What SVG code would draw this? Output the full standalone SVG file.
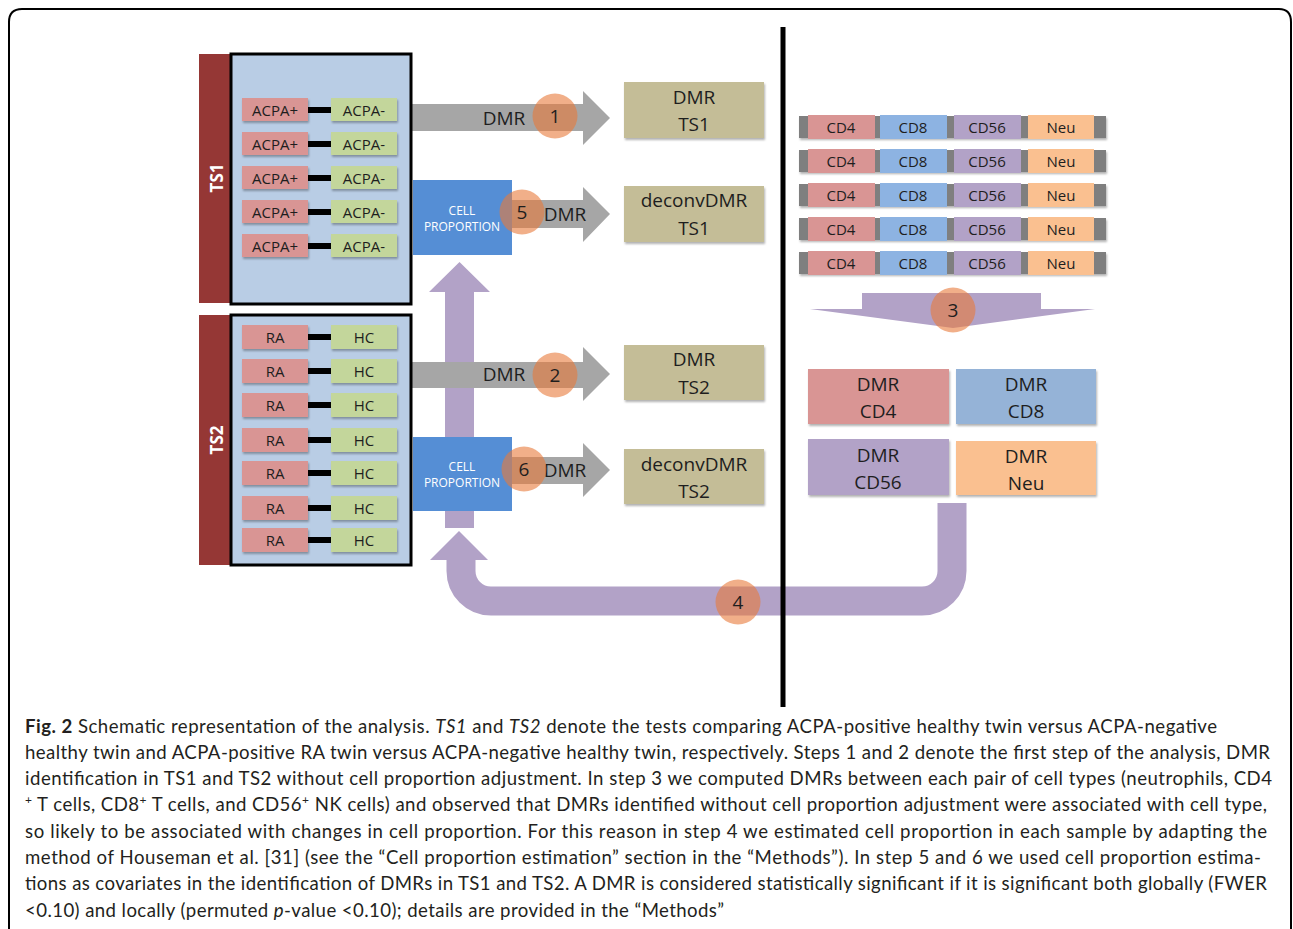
<svg xmlns="http://www.w3.org/2000/svg" width="1293" height="929" viewBox="0 0 1293 929">
<style>
.t{font-family:"Open Sans","Liberation Sans",sans-serif;fill:#1e1e1e;text-anchor:middle;dominant-baseline:central}
.s15{font-size:15px}
.s19{font-size:19px}
.cp{font-size:12px;fill:#fff}
.pos{fill:#D99594}
.neg{fill:#C3D69B}
.bar{fill:#000}
.res{fill:#C4BD97}
.gray{fill:#A6A6A6}
.purp{fill:#B2A2C7}
.circ{fill:#E8793A;fill-opacity:0.6}
.cap{font-family:Lato,"Open Sans","Liberation Sans",sans-serif;font-size:18.6px;fill:#231F20}
</style>
<defs>
<filter id="sh" x="-10%" y="-10%" width="130%" height="140%">
<feDropShadow dx="1" dy="2" stdDeviation="1.3" flood-color="#000" flood-opacity="0.3"/>
</filter>
</defs>
<rect width="1293" height="929" fill="#fff"/>
<path d="M9,929 V22 Q9,9 22,9 H1279 Q1291,9 1291,22 V929" fill="none" stroke="#000" stroke-width="2"/>

<g id="connectors">
<polygon class="purp" points="445,528 474,528 474,292 490,292 459.5,262 429,292 445,292"/>
<path d="M461,559 V571 A30,30 0 0 0 491,601 H922 A30,30 0 0 0 952,571 V503" fill="none" stroke="#B2A2C7" stroke-width="29"/>
<polygon class="purp" points="430,560 459,531 488,560"/>
<polygon class="gray" points="411,104 583,104 583,91 610,118 583,145 583,131 411,131"/>
<polygon class="gray" points="512,200 583,200 583,187 610,214 583,242 583,228 512,228"/>
<polygon class="gray" points="411,362 583,362 583,347 610,374 583,401 583,388 411,388"/>
<polygon class="gray" points="512,457 583,457 583,443 610,470 583,497 583,484 512,484"/>
<polygon class="purp" points="862,293 1041,293 1041,309 1095,309 953,328 810,309 862,309"/>
<text class="t s19" x="504" y="118">DMR</text>
<text class="t s19" x="565" y="214">DMR</text>
<text class="t s19" x="504" y="374">DMR</text>
<text class="t s19" x="565" y="470">DMR</text>
</g>

<g id="ts1">
<rect x="199" y="54" width="32" height="249" fill="#953735"/>
<rect x="231" y="54" width="180" height="250" fill="#B9CDE5" stroke="#000" stroke-width="3"/>
<text class="t" x="216" y="178" transform="rotate(-90 216 178)" style="fill:#fff;font-size:17px;font-weight:bold">TS1</text>
<g filter="url(#sh)">
<rect class="pos" x="242" y="98" width="66" height="23"/><rect class="neg" x="331" y="98" width="66" height="23"/>
<rect class="pos" x="242" y="132" width="66" height="23"/><rect class="neg" x="331" y="132" width="66" height="23"/>
<rect class="pos" x="242" y="166" width="66" height="23"/><rect class="neg" x="331" y="166" width="66" height="23"/>
<rect class="pos" x="242" y="200" width="66" height="23"/><rect class="neg" x="331" y="200" width="66" height="23"/>
<rect class="pos" x="242" y="234" width="66" height="23"/><rect class="neg" x="331" y="234" width="66" height="23"/>
</g>
<rect class="bar" x="308" y="107" width="23" height="6"/>
<rect class="bar" x="308" y="141" width="23" height="6"/>
<rect class="bar" x="308" y="175" width="23" height="6"/>
<rect class="bar" x="308" y="209" width="23" height="6"/>
<rect class="bar" x="308" y="243" width="23" height="6"/>
<text class="t s15" x="275" y="110">ACPA+</text><text class="t s15" x="364" y="110">ACPA-</text>
<text class="t s15" x="275" y="144">ACPA+</text><text class="t s15" x="364" y="144">ACPA-</text>
<text class="t s15" x="275" y="178">ACPA+</text><text class="t s15" x="364" y="178">ACPA-</text>
<text class="t s15" x="275" y="212">ACPA+</text><text class="t s15" x="364" y="212">ACPA-</text>
<text class="t s15" x="275" y="246">ACPA+</text><text class="t s15" x="364" y="246">ACPA-</text>
</g>

<g id="ts2">
<rect x="199" y="315" width="32" height="250" fill="#953735"/>
<rect x="231" y="315" width="180" height="250" fill="#B9CDE5" stroke="#000" stroke-width="3"/>
<text class="t" x="216" y="440" transform="rotate(-90 216 440)" style="fill:#fff;font-size:17px;font-weight:bold">TS2</text>
<g filter="url(#sh)">
<rect class="pos" x="242" y="325" width="66" height="24"/><rect class="neg" x="331" y="325" width="66" height="24"/>
<rect class="pos" x="242" y="359" width="66" height="24"/><rect class="neg" x="331" y="359" width="66" height="24"/>
<rect class="pos" x="242" y="393" width="66" height="24"/><rect class="neg" x="331" y="393" width="66" height="24"/>
<rect class="pos" x="242" y="428" width="66" height="24"/><rect class="neg" x="331" y="428" width="66" height="24"/>
<rect class="pos" x="242" y="461" width="66" height="24"/><rect class="neg" x="331" y="461" width="66" height="24"/>
<rect class="pos" x="242" y="496" width="66" height="24"/><rect class="neg" x="331" y="496" width="66" height="24"/>
<rect class="pos" x="242" y="528" width="66" height="24"/><rect class="neg" x="331" y="528" width="66" height="24"/>
</g>
<rect class="bar" x="308" y="334" width="23" height="6"/>
<rect class="bar" x="308" y="368" width="23" height="6"/>
<rect class="bar" x="308" y="402" width="23" height="6"/>
<rect class="bar" x="308" y="437" width="23" height="6"/>
<rect class="bar" x="308" y="470" width="23" height="6"/>
<rect class="bar" x="308" y="505" width="23" height="6"/>
<rect class="bar" x="308" y="537" width="23" height="6"/>
<text class="t s15" x="275" y="337">RA</text><text class="t s15" x="364" y="337">HC</text>
<text class="t s15" x="275" y="371">RA</text><text class="t s15" x="364" y="371">HC</text>
<text class="t s15" x="275" y="405">RA</text><text class="t s15" x="364" y="405">HC</text>
<text class="t s15" x="275" y="440">RA</text><text class="t s15" x="364" y="440">HC</text>
<text class="t s15" x="275" y="473">RA</text><text class="t s15" x="364" y="473">HC</text>
<text class="t s15" x="275" y="508">RA</text><text class="t s15" x="364" y="508">HC</text>
<text class="t s15" x="275" y="540">RA</text><text class="t s15" x="364" y="540">HC</text>
</g>

<g id="cellprop1">
<rect x="413" y="180" width="99" height="75" fill="#558ED5"/>
<text class="t cp" x="462" y="210">CELL</text>
<text class="t cp" x="462" y="226">PROPORTION</text>
</g>
<g id="cellprop2">
<rect x="413" y="437" width="99" height="74" fill="#558ED5"/>
<text class="t cp" x="462" y="466">CELL</text>
<text class="t cp" x="462" y="482">PROPORTION</text>
</g>

<g id="dmr-ts1">
<rect class="res" x="624" y="82" width="140" height="56" filter="url(#sh)"/>
<text class="t s19" x="694" y="97">DMR</text><text class="t s19" x="694" y="124">TS1</text>
</g>
<g id="deconv-ts1">
<rect class="res" x="624" y="186" width="140" height="56" filter="url(#sh)"/>
<text class="t s19" x="694" y="200">deconvDMR</text><text class="t s19" x="694" y="228">TS1</text>
</g>
<g id="dmr-ts2">
<rect class="res" x="624" y="345" width="140" height="55" filter="url(#sh)"/>
<text class="t s19" x="694" y="359">DMR</text><text class="t s19" x="694" y="387">TS2</text>
</g>
<g id="deconv-ts2">
<rect class="res" x="624" y="449" width="140" height="55" filter="url(#sh)"/>
<text class="t s19" x="694" y="464">deconvDMR</text><text class="t s19" x="694" y="491">TS2</text>
</g>

<g id="celltypes">
<g filter="url(#sh)">
<rect x="799" y="116" width="307" height="22" fill="#7F7F7F"/>
<rect x="799" y="150" width="307" height="22" fill="#7F7F7F"/>
<rect x="799" y="184" width="307" height="22" fill="#7F7F7F"/>
<rect x="799" y="218" width="307" height="22" fill="#7F7F7F"/>
<rect x="799" y="252" width="307" height="22" fill="#7F7F7F"/>
</g>
<g>
<rect x="808" y="115" width="67" height="24" fill="#D99594"/><rect x="880" y="115" width="67" height="24" fill="#8DB3E2"/><rect x="954" y="115" width="67" height="24" fill="#B2A2C7"/><rect x="1028" y="115" width="66" height="24" fill="#FAC090"/>
<rect x="808" y="149" width="67" height="24" fill="#D99594"/><rect x="880" y="149" width="67" height="24" fill="#8DB3E2"/><rect x="954" y="149" width="67" height="24" fill="#B2A2C7"/><rect x="1028" y="149" width="66" height="24" fill="#FAC090"/>
<rect x="808" y="183" width="67" height="24" fill="#D99594"/><rect x="880" y="183" width="67" height="24" fill="#8DB3E2"/><rect x="954" y="183" width="67" height="24" fill="#B2A2C7"/><rect x="1028" y="183" width="66" height="24" fill="#FAC090"/>
<rect x="808" y="217" width="67" height="24" fill="#D99594"/><rect x="880" y="217" width="67" height="24" fill="#8DB3E2"/><rect x="954" y="217" width="67" height="24" fill="#B2A2C7"/><rect x="1028" y="217" width="66" height="24" fill="#FAC090"/>
<rect x="808" y="251" width="67" height="24" fill="#D99594"/><rect x="880" y="251" width="67" height="24" fill="#8DB3E2"/><rect x="954" y="251" width="67" height="24" fill="#B2A2C7"/><rect x="1028" y="251" width="66" height="24" fill="#FAC090"/>
</g>
<text class="t s15" x="841" y="127">CD4</text><text class="t s15" x="913" y="127">CD8</text><text class="t s15" x="987" y="127">CD56</text><text class="t s15" x="1061" y="127">Neu</text>
<text class="t s15" x="841" y="161">CD4</text><text class="t s15" x="913" y="161">CD8</text><text class="t s15" x="987" y="161">CD56</text><text class="t s15" x="1061" y="161">Neu</text>
<text class="t s15" x="841" y="195">CD4</text><text class="t s15" x="913" y="195">CD8</text><text class="t s15" x="987" y="195">CD56</text><text class="t s15" x="1061" y="195">Neu</text>
<text class="t s15" x="841" y="229">CD4</text><text class="t s15" x="913" y="229">CD8</text><text class="t s15" x="987" y="229">CD56</text><text class="t s15" x="1061" y="229">Neu</text>
<text class="t s15" x="841" y="263">CD4</text><text class="t s15" x="913" y="263">CD8</text><text class="t s15" x="987" y="263">CD56</text><text class="t s15" x="1061" y="263">Neu</text>
</g>

<g id="dmr-cd4">
<rect x="808" y="369" width="141" height="55" fill="#D99594" filter="url(#sh)"/>
<text class="t s19" x="878" y="384">DMR</text><text class="t s19" x="878" y="411">CD4</text>
</g>
<g id="dmr-cd8">
<rect x="956" y="369" width="140" height="55" fill="#95B3D7" filter="url(#sh)"/>
<text class="t s19" x="1026" y="384">DMR</text><text class="t s19" x="1026" y="411">CD8</text>
</g>
<g id="dmr-cd56">
<rect x="808" y="439" width="141" height="56" fill="#B2A2C7" filter="url(#sh)"/>
<text class="t s19" x="878" y="455">DMR</text><text class="t s19" x="878" y="482">CD56</text>
</g>
<g id="dmr-neu">
<rect x="956" y="441" width="140" height="54" fill="#FAC090" filter="url(#sh)"/>
<text class="t s19" x="1026" y="456">DMR</text><text class="t s19" x="1026" y="483">Neu</text>
</g>

<rect id="divider" x="780.5" y="27" width="5" height="680" fill="#000"/>

<g id="steps">
<circle class="circ" cx="555" cy="116" r="22.5"/><text class="t s19" x="555" y="116">1</text>
<circle class="circ" cx="555" cy="375" r="22.5"/><text class="t s19" x="555" y="375">2</text>
<circle class="circ" cx="953" cy="310" r="22.5"/><text class="t s19" x="953" y="310">3</text>
<circle class="circ" cx="738" cy="602" r="22.5"/><text class="t s19" x="738" y="602">4</text>
<circle class="circ" cx="522" cy="212" r="22.5"/><text class="t s19" x="522" y="212">5</text>
<circle class="circ" cx="524" cy="469" r="22.5"/><text class="t s19" x="524" y="469">6</text>
</g>

<g id="caption" class="cap">
<text x="25" y="733" textLength="1192" lengthAdjust="spacing"><tspan font-weight="bold">Fig. 2</tspan> Schematic representation of the analysis. <tspan font-style="italic">TS1</tspan> and <tspan font-style="italic">TS2</tspan> denote the tests comparing ACPA-positive healthy twin versus ACPA-negative</text>
<text x="25" y="759" textLength="1245" lengthAdjust="spacing">healthy twin and ACPA-positive RA twin versus ACPA-negative healthy twin, respectively. Steps 1 and 2 denote the first step of the analysis, DMR</text>
<text x="25" y="785" textLength="1247" lengthAdjust="spacing">identification in TS1 and TS2 without cell proportion adjustment. In step 3 we computed DMRs between each pair of cell types (neutrophils, CD4</text>
<text x="25" y="811" textLength="1242" lengthAdjust="spacing"><tspan font-size="12" dy="-7">+</tspan><tspan dy="7"> T cells, CD8</tspan><tspan font-size="12" dy="-7">+</tspan><tspan dy="7"> T cells, and CD56</tspan><tspan font-size="12" dy="-7">+</tspan><tspan dy="7"> NK cells) and observed that DMRs identified without cell proportion adjustment were associated with cell type,</tspan></text>
<text x="25" y="838" textLength="1242" lengthAdjust="spacing">so likely to be associated with changes in cell proportion. For this reason in step 4 we estimated cell proportion in each sample by adapting the</text>
<text x="25" y="864" textLength="1236" lengthAdjust="spacing">method of Houseman et al. [31] (see the “Cell proportion estimation” section in the “Methods”). In step 5 and 6 we used cell proportion estima-</text>
<text x="25" y="890" textLength="1242" lengthAdjust="spacing">tions as covariates in the identification of DMRs in TS1 and TS2. A DMR is considered statistically significant if it is significant both globally (FWER</text>
<text x="25" y="917" textLength="699" lengthAdjust="spacing">&lt;0.10) and locally (permuted <tspan font-style="italic">p</tspan>-value &lt;0.10); details are provided in the “Methods”</text>
</g>
</svg>
